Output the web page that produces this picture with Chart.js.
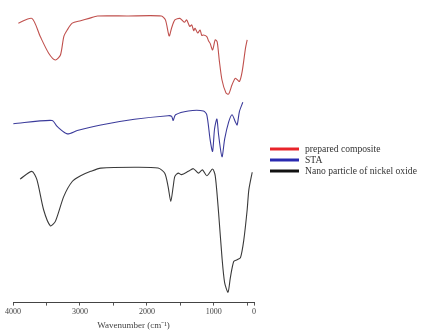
<!DOCTYPE html>
<html>
<head>
<meta charset="utf-8">
<script src="https://cdn.jsdelivr.net/npm/chart.js@4"></script>
<style>
  html, body { margin: 0; padding: 0; background: #fff; }
  #wrap { width: 422px; height: 331px; }
</style>
</head>
<body>
<div id="wrap"><canvas id="ftirChart"></canvas></div>
<script>
// FTIR spectra (transmittance in arbitrary offset units)
const seriesNames = ['prepared composite', 'STA', 'Nano particle of nickel oxide'];

const compositeWavenumbers = [3920, 3718, 3593, 3467, 3367, 3291, 3241, 3190, 3115, 2990, 2864, 2738, 2300, 1783, 1723, 1667, 1632, 1582, 1507, 1440, 1406, 1360, 1331, 1300, 1281, 1240, 1206, 1180, 1155, 1105, 1080, 1055, 1019, 979, 950, 919, 878, 818, 778, 728, 678, 618, 577, 527, 502];
const compositeValues = [93.9, 95.5, 89.4, 83.8, 81.5, 83.2, 89.4, 91.6, 93.9, 94.7, 95.5, 96.3, 96.3, 96.3, 95.0, 89.6, 92.2, 95.0, 95.5, 94.2, 95.0, 92.8, 93.3, 91.4, 92.2, 90.6, 91.6, 89.8, 89.9, 89.4, 88.0, 87.1, 84.9, 88.3, 87.6, 81.5, 74.8, 70.4, 70.1, 73.2, 75.4, 74.3, 77.6, 85.5, 88.3];

const staWavenumbers = [3995, 3416, 3341, 3190, 3040, 2688, 2186, 1683, 1630, 1607, 1572, 1381, 1155, 1105, 1055, 1019, 989, 954, 929, 878, 838, 778, 728, 678, 652, 618, 567];
const staValues = [60.1, 61.2, 59.2, 56.7, 57.8, 59.7, 61.6, 62.8, 62.6, 61.2, 63.1, 64.4, 64.4, 63.1, 54.7, 50.8, 58.4, 61.7, 56.4, 49.0, 55.0, 60.7, 63.1, 60.7, 59.7, 64.2, 67.3];

const nioWavenumbers = [3894, 3718, 3643, 3543, 3442, 3367, 3241, 3115, 2990, 2839, 2688, 2186, 1833, 1733, 1683, 1643, 1607, 1582, 1532, 1482, 1381, 1306, 1230, 1170, 1105, 1019, 979, 929, 878, 838, 788, 753, 703, 652, 602, 552, 502, 477, 427];
const nioValues = [41.5, 44.1, 41.3, 31.2, 25.8, 27.3, 35.7, 40.7, 42.6, 44.1, 45.2, 45.5, 45.2, 43.5, 39.0, 34.0, 39.0, 42.4, 43.5, 43.0, 44.1, 45.0, 43.5, 44.6, 42.6, 44.9, 42.6, 30.2, 15.1, 6.6, 3.5, 8.4, 13.8, 14.4, 15.1, 21.1, 31.2, 37.9, 43.8];

const xTicks = [4000, 3500, 3000, 2500, 2000, 1500, 1000, 500, 400];
const lineColors = ['#c0504d', '#3b3b9b', '#3a3a3a'];
const legendColors = ['#e8242a', '#2a2ab0', '#111111'];

function toPoints(xs, ys) {
    return xs.map((x, i) => ({ x: x, y: ys[i] }));
}

// legend drawn to the right of the plot, the way the figure has it
const sideLegend = {
    id: 'sideLegend',
    afterDraw(chart) {
        const ctx = chart.ctx;
        ctx.save();
        ctx.font = '9.6px "Liberation Serif", serif';
        ctx.textBaseline = 'middle';
        chart.data.datasets.forEach((ds, i) => {
            const y = 149 + i * 11;
            ctx.strokeStyle = legendColors[i];
            ctx.lineWidth = 3;
            ctx.beginPath();
            ctx.moveTo(270, y);
            ctx.lineTo(299, y);
            ctx.stroke();
            ctx.fillStyle = '#333';
            ctx.fillText(ds.label, 305, y);
        });
        ctx.restore();
    }
};

const datasets = [
    toPoints(compositeWavenumbers, compositeValues),
    toPoints(staWavenumbers, staValues),
    toPoints(nioWavenumbers, nioValues)
].map((pts, i) => ({
    label: seriesNames[i],
    data: pts,
    borderColor: lineColors[i],
    borderWidth: 1.1,
    pointRadius: 0,
    tension: 0.25,
    fill: false
}));

new Chart(document.getElementById('ftirChart'), {
    type: 'line',
    data: { datasets: datasets },
    options: {
        responsive: true,
        maintainAspectRatio: false,
        animation: false,
        layout: { padding: { top: 5, left: 13, right: 168, bottom: 0 } },
        plugins: {
            legend: { display: false },
            tooltip: { enabled: false }
        },
        scales: {
            x: {
                type: 'linear',
                reverse: true,
                min: 400,
                max: 4000,
                afterBuildTicks: scale => {
                    scale.ticks = xTicks.map(v => ({ value: v }));
                },
                grid: {
                    drawOnChartArea: false,
                    drawTicks: true,
                    tickLength: 3,
                    color: '#555'
                },
                border: { color: '#444', width: 1 },
                ticks: {
                    autoSkip: false,
                    maxRotation: 0,
                    padding: 2,
                    color: '#444',
                    font: { family: '"Liberation Serif", serif', size: 8 },
                    callback: v => (v === 400 ? '0' : (v % 1000 === 0 ? String(v) : ''))
                },
                title: {
                    display: true,
                    text: 'Wavenumber (cm⁻¹)',
                    color: '#444',
                    padding: { top: 1, bottom: 0 },
                    font: { family: '"Liberation Serif", serif', size: 9 }
                }
            },
            y: {
                display: false,
                min: 0,
                max: 100
            }
        }
    },
    plugins: [sideLegend]
});
</script>
</body>
</html>
